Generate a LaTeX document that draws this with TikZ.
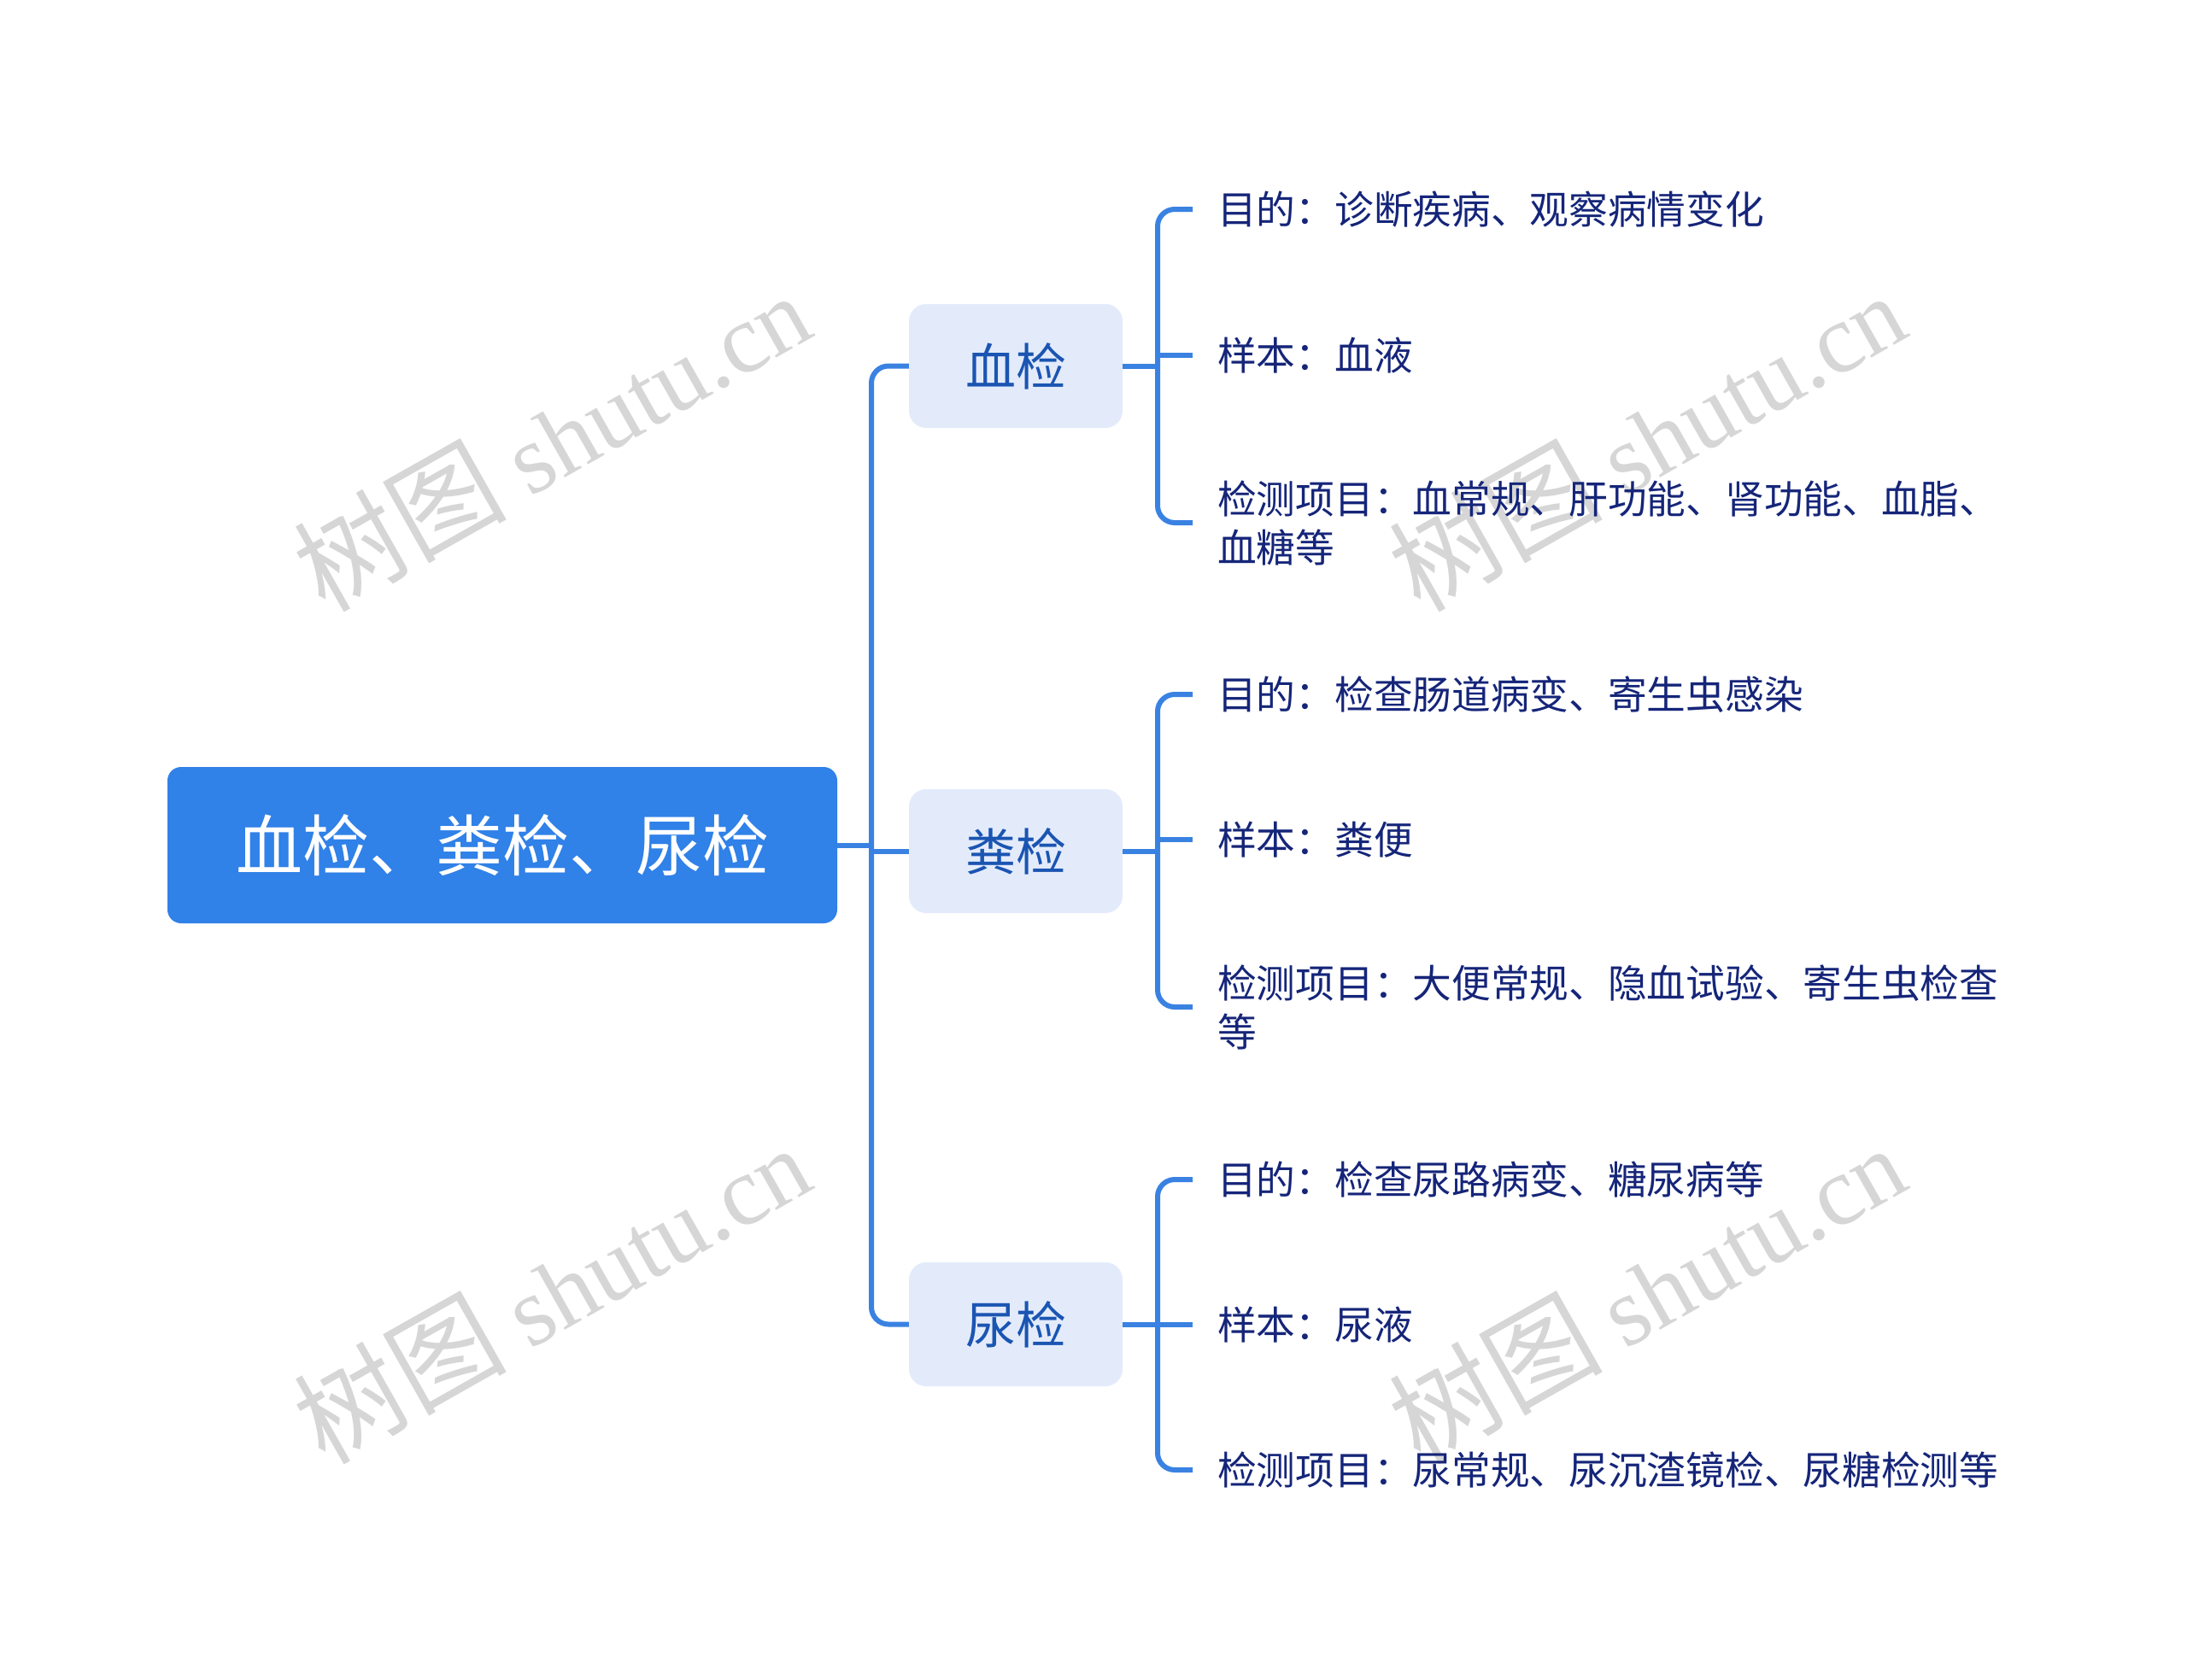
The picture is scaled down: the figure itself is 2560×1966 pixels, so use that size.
\documentclass[tikz,border=0pt]{standalone}
\usepackage{fontspec}
\setmainfont{Noto Sans CJK SC}
\newfontfamily\cjk{Noto Sans CJK SC}
\newfontfamily\wmserif{Liberation Serif}
\definecolor{rootblue}{HTML}{3081E8}
\definecolor{linkblue}{HTML}{3A82E2}
\definecolor{lightbox}{HTML}{E3EBFB}
\definecolor{lvtext}{HTML}{1B55B2}
\definecolor{navy}{HTML}{152579}
\definecolor{wmgray}{HTML}{D6D6D6}
\begin{document}
\begin{tikzpicture}[x=1pt,y=-1pt,
 rootbox/.style={fill=rootblue, rounded corners=16pt, minimum width=784pt, minimum height=183pt, text=white, font=\fontsize{78}{90}\selectfont, inner sep=0pt},
 catbox/.style={fill=lightbox, rounded corners=20pt, minimum width=250pt, minimum height=145pt, text=lvtext, font=\fontsize{59}{70}\selectfont, inner sep=0pt},
 leaf/.style={anchor=west, inner sep=0pt, text=navy, font=\fontsize{45.7}{57}\selectfont, align=left},
 conn/.style={draw=linkblue, line width=6pt, rounded corners=20pt},
 watermark/.style={text=wmgray, rotate=29.5, inner sep=0pt, font=\fontsize{115}{120}\selectfont}
]
\useasboundingbox (0,0) rectangle (2560,1966);
\fill[white] (0,0) rectangle (2560,1966);

% watermarks
\node[watermark] (w1) at (645,514) {{\cjk\fontsize{125}{130}\selectfont 树图} {\wmserif shutu.cn}};
\node[watermark] (w2) at (1927,514) {{\cjk\fontsize{125}{130}\selectfont 树图} {\wmserif shutu.cn}};
\node[watermark] (w3) at (645,1512) {{\cjk\fontsize{125}{130}\selectfont 树图} {\wmserif shutu.cn}};
\node[watermark] (w4) at (1927,1512) {{\cjk\fontsize{125}{130}\selectfont 树图} {\wmserif shutu.cn}};

% main nodes
\node[rootbox] (root) at (588,989.5) {血检、粪检、尿检};
\node[catbox] (b1) at (1189,428.5) {血检};
\node[catbox] (b2) at (1189,996.5) {粪检};
\node[catbox] (b3) at (1189,1550.5) {尿检};

% leaves
\node[leaf] (c11) at (1425,245) {目的：诊断疾病、观察病情变化};
\node[leaf] (c12) at (1425,416) {样本：血液};
\node[leaf] (c13) at (1425,612) {检测项目：血常规、肝功能、肾功能、血脂、\\血糖等};
\node[leaf] (c21) at (1425,813) {目的：检查肠道病变、寄生虫感染};
\node[leaf] (c22) at (1425,983) {样本：粪便};
\node[leaf] (c23) at (1425,1179) {检测项目：大便常规、隐血试验、寄生虫检查\\等};
\node[leaf] (c31) at (1425,1381) {目的：检查尿路病变、糖尿病等};
\node[leaf] (c32) at (1425,1551) {样本：尿液};
\node[leaf] (c33) at (1425,1721) {检测项目：尿常规、尿沉渣镜检、尿糖检测等};

% trunk
\coordinate (t) at (1020,989.5);
\draw[conn] (root.east) -- (t);
\draw[conn] (b1.west) -| (t) |- (b3.west);
\draw[conn] (t |- b2.west) -- (b2.west);

% brackets
\coordinate (k1) at (1355,428.5);
\coordinate (k2) at (1355,996.5);
\coordinate (k3) at (1355,1550.5);

\draw[conn] (b1.east) -- (k1);
\draw[conn] ([xshift=-29pt]c11.west) -| (k1) |- ([xshift=-29pt]c13.west);
\draw[conn] (k1 |- c12.west) -- ([xshift=-29pt]c12.west);

\draw[conn] (b2.east) -- (k2);
\draw[conn] ([xshift=-29pt]c21.west) -| (k2) |- ([xshift=-29pt]c23.west);
\draw[conn] (k2 |- c22.west) -- ([xshift=-29pt]c22.west);

\draw[conn] (b3.east) -- (k3);
\draw[conn] ([xshift=-29pt]c31.west) -| (k3) |- ([xshift=-29pt]c33.west);
\draw[conn] (k3 |- c32.west) -- ([xshift=-29pt]c32.west);
\end{tikzpicture}
\end{document}
